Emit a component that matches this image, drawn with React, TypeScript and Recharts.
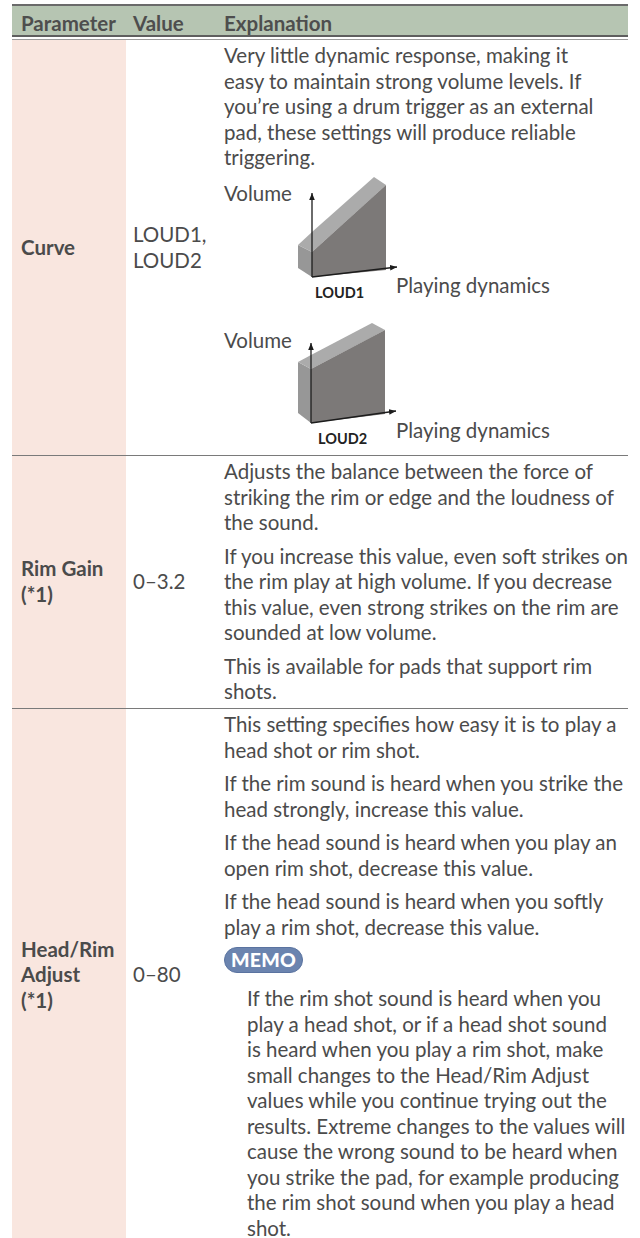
import React from "react";
import { ComposedChart, Area, Scatter, XAxis, YAxis } from "recharts";

const FONT = "Lato, 'Open Sans', sans-serif";
const TEXT = "#4b4b4b";
const LH = 25.5;
const GAP = 8;

// header
const headers = ["Parameter", "Value", "Explanation"];

// rows: label lines, value lines
const curveLabel = ["Curve"];
const curveValue = ["LOUD1,", "LOUD2"];
const rimLabel = ["Rim Gain", "(*1)"];
const rimValue = ["0–3.2"];
const headRimLabel = ["Head/Rim", "Adjust", "(*1)"];
const headRimValue = ["0–80"];

const curveText = [
  [
    "Very little dynamic response, making it",
    "easy to maintain strong volume levels. If",
    "you’re using a drum trigger as an external",
    "pad, these settings will produce reliable",
    "triggering.",
  ],
];
const rimText = [
  ["Adjusts the balance between the force of", "striking the rim or edge and the loudness of", "the sound."],
  [
    "If you increase this value, even soft strikes on",
    "the rim play at high volume. If you decrease",
    "this value, even strong strikes on the rim are",
    "sounded at low volume.",
  ],
  ["This is available for pads that support rim", "shots."],
];
const headRimText = [
  ["This setting specifies how easy it is to play a", "head shot or rim shot."],
  ["If the rim sound is heard when you strike the", "head strongly, increase this value."],
  ["If the head sound is heard when you play an", "open rim shot, decrease this value."],
  ["If the head sound is heard when you softly", "play a rim shot, decrease this value."],
];
const memoText = [
  "If the rim shot sound is heard when you",
  "play a head shot, or if a head shot sound",
  "is heard when you play a rim shot, make",
  "small changes to the Head/Rim Adjust",
  "values while you continue trying out the",
  "results. Extreme changes to the values will",
  "cause the wrong sound to be heard when",
  "you strike the pad, for example producing",
  "the rim shot sound when you play a head",
  "shot.",
];

// block diagrams: x = playing dynamics, y = volume, origin at the axis corner
const loud1Left = [
  { x: -14, v: [9, 32] },
  { x: 0, v: [0, 25] },
];
const loud1Top = [
  { x: -14, v: [32, 32] },
  { x: 0, v: [25, 45] },
  { x: 62, v: [81, 100] },
  { x: 74, v: [92, 92] },
];
const loud1Front = [
  { x: 0, v: [0, 25] },
  { x: 74, v: [7, 92] },
];
const loud1VAxis = [
  { x: 0, y: 0 },
  { x: 0, y: 84 },
];
const loud1HAxis = [
  { x: 0, y: 0 },
  { x: 85, y: 10 },
];

const loud2Left = [
  { x: -13, v: [10, 61] },
  { x: 0, v: [0, 54] },
];
const loud2Top = [
  { x: -13, v: [61, 61] },
  { x: 0, v: [54, 68] },
  { x: 61, v: [86, 100] },
  { x: 74, v: [93, 93] },
];
const loud2Front = [
  { x: 0, v: [0, 54] },
  { x: 74, v: [9, 93] },
];
const loud2VAxis = [
  { x: 0, y: 0 },
  { x: 0, y: 80 },
];
const loud2HAxis = [
  { x: 0, y: 0 },
  { x: 85, y: 12 },
];

function buildTable(left: any[], top: any[], front: any[]) {
  const rows = new Map<number, any>();
  const put = (list: any[], key: string) =>
    list.forEach((p) => {
      const r = rows.get(p.x) ?? { x: p.x };
      r[key] = p.v;
      rows.set(p.x, r);
    });
  put(left, "left");
  put(top, "top");
  put(front, "front");
  return [...rows.values()].sort((a, b) => a.x - b.x);
}

const noMark = () => <g />;

function BlockChart({ id, left, top, front, vAxis, hAxis, x, y }: any) {
  const data = buildTable(left, top, front);
  const axisLine = { stroke: "#1c1c1c", strokeWidth: 1.3, markerEnd: `url(#${id})` };
  return (
    <div style={{ position: "absolute", left: x, top: y, width: 120, height: 120 }}>
      <ComposedChart width={120} height={120} data={data} margin={{ top: 0, right: 0, bottom: 0, left: 0 }}>
        <defs>
          <marker id={id} viewBox="0 0 10 8" refX="10" refY="4" markerWidth="7" markerHeight="5.6" orient="auto" markerUnits="userSpaceOnUse">
            <path d="M0,0 L10,4 L0,8 z" fill="#1c1c1c" />
          </marker>
        </defs>
        <XAxis type="number" dataKey="x" domain={[-20, 100]} hide allowDataOverflow />
        <YAxis type="number" dataKey="y" domain={[-10, 110]} hide allowDataOverflow />
        <Area dataKey="left" type="linear" fill="#979797" fillOpacity={1} stroke="none" connectNulls dot={false} activeDot={false} isAnimationActive={false} />
        <Area dataKey="top" type="linear" fill="#ababab" fillOpacity={1} stroke="none" connectNulls dot={false} activeDot={false} isAnimationActive={false} />
        <Area dataKey="front" type="linear" fill="#7c7978" fillOpacity={1} stroke="none" connectNulls dot={false} activeDot={false} isAnimationActive={false} />
        <Scatter data={vAxis} line={axisLine} shape={noMark} isAnimationActive={false} />
        <Scatter data={hAxis} line={axisLine} shape={noMark} isAnimationActive={false} />
      </ComposedChart>
    </div>
  );
}

const box = (left: number, top: number, width: number, height: number, bg: string): React.CSSProperties => ({
  position: "absolute",
  left,
  top,
  width,
  height,
  background: bg,
});

function Lines({ lines }: { lines: string[] }) {
  return (
    <>
      {lines.map((l, i) => (
        <div key={i} style={{ whiteSpace: "nowrap", lineHeight: `${LH}px` }}>
          {l}
        </div>
      ))}
    </>
  );
}

function Paragraphs({ paras }: { paras: string[][] }) {
  return (
    <>
      {paras.map((p, i) => (
        <div key={i} style={{ marginBottom: GAP }}>
          <Lines lines={p} />
        </div>
      ))}
    </>
  );
}

function RowCells({ top, bottom, label, value }: any) {
  const cell = (left: number, width: number, bold: boolean): React.CSSProperties => ({
    position: "absolute",
    left,
    top,
    width,
    height: bottom - top,
    display: "flex",
    flexDirection: "column",
    justifyContent: "center",
    fontWeight: bold ? 700 : 400,
  });
  return (
    <>
      <div style={cell(21, 100, true)}>
        <Lines lines={label} />
      </div>
      <div style={cell(133, 85, false)}>
        <Lines lines={value} />
      </div>
    </>
  );
}

const S1 = 455;
const S2 = 708;
const BOTTOM = 1238;

export default function App() {
  const labelStyle: React.CSSProperties = { position: "absolute", whiteSpace: "nowrap", fontSize: 20.5, lineHeight: "24px" };
  return (
    <div
      style={{
        position: "absolute",
        left: 0,
        top: 0,
        width: 640,
        height: 1238,
        overflow: "hidden",
        background: "#fff",
        fontFamily: FONT,
        fontSize: 20.5,
        color: TEXT,
      }}
    >
      <div style={box(12, 4, 616, 2, "#6a6a6a")} />
      <div style={box(12, 6, 616, 29, "#b6c5b2")} />
      <div style={box(12, 35, 616, 1.5, "#5e5e5e")} />
      <div style={box(12, 38.5, 616, 1.2, "#9c9c9c")} />
      <div style={box(12, 40, 114, BOTTOM - 40, "#f9e6df")} />
      <div style={box(12, S1, 616, 1.3, "#7a7a7a")} />
      <div style={box(12, S2, 616, 1.3, "#7a7a7a")} />

      {headers.map((h, i) => (
        <div
          key={h}
          style={{
            position: "absolute",
            left: [21, 133, 224][i],
            top: 8.5,
            lineHeight: "29px",
            fontWeight: 700,
            color: "#4e4e4e",
          }}
        >
          {h}
        </div>
      ))}

      <RowCells top={40} bottom={S1} label={curveLabel} value={curveValue} />
      <RowCells top={S1} bottom={S2} label={rimLabel} value={rimValue} />
      <RowCells top={S2} bottom={BOTTOM + 4} label={headRimLabel} value={headRimValue} />

      <div style={{ position: "absolute", left: 224, top: 43 }}>
        <Paragraphs paras={curveText} />
      </div>
      <div style={{ position: "absolute", left: 224, top: S1 + 4 }}>
        <Paragraphs paras={rimText} />
      </div>
      <div style={{ position: "absolute", left: 224, top: S2 + 4 }}>
        <Paragraphs paras={headRimText} />
        <div
          style={{
            width: 77,
            height: 24,
            marginTop: -1,
            borderRadius: 14,
            background: "#6b84af",
            border: "1.5px solid #5a73a0",
            color: "#fff",
            fontWeight: 900,
            fontSize: 19.5,
            letterSpacing: 0.2,
            lineHeight: "24px",
            textAlign: "center",
          }}
        >
          MEMO
        </div>
        <div style={{ marginLeft: 23, marginTop: 13 }}>
          <Lines lines={memoText} />
        </div>
      </div>

      {/* LOUD1 diagram */}
      <div style={{ ...labelStyle, left: 224, top: 181 }}>Volume</div>
      <BlockChart id="arrowLoud1" left={loud1Left} top={loud1Top} front={loud1Front} vAxis={loud1VAxis} hAxis={loud1HAxis} x={292} y={167} />
      <div style={{ ...labelStyle, left: 396, top: 273 }}>Playing dynamics</div>
      <div style={{ ...labelStyle, left: 315, top: 281, fontSize: 14.5, fontWeight: 700, color: "#222" }}>LOUD1</div>

      {/* LOUD2 diagram */}
      <div style={{ ...labelStyle, left: 224, top: 328 }}>Volume</div>
      <BlockChart id="arrowLoud2" left={loud2Left} top={loud2Top} front={loud2Front} vAxis={loud2VAxis} hAxis={loud2HAxis} x={291} y={313} />
      <div style={{ ...labelStyle, left: 396, top: 418 }}>Playing dynamics</div>
      <div style={{ ...labelStyle, left: 318, top: 427, fontSize: 14.5, fontWeight: 700, color: "#222" }}>LOUD2</div>
    </div>
  );
}
